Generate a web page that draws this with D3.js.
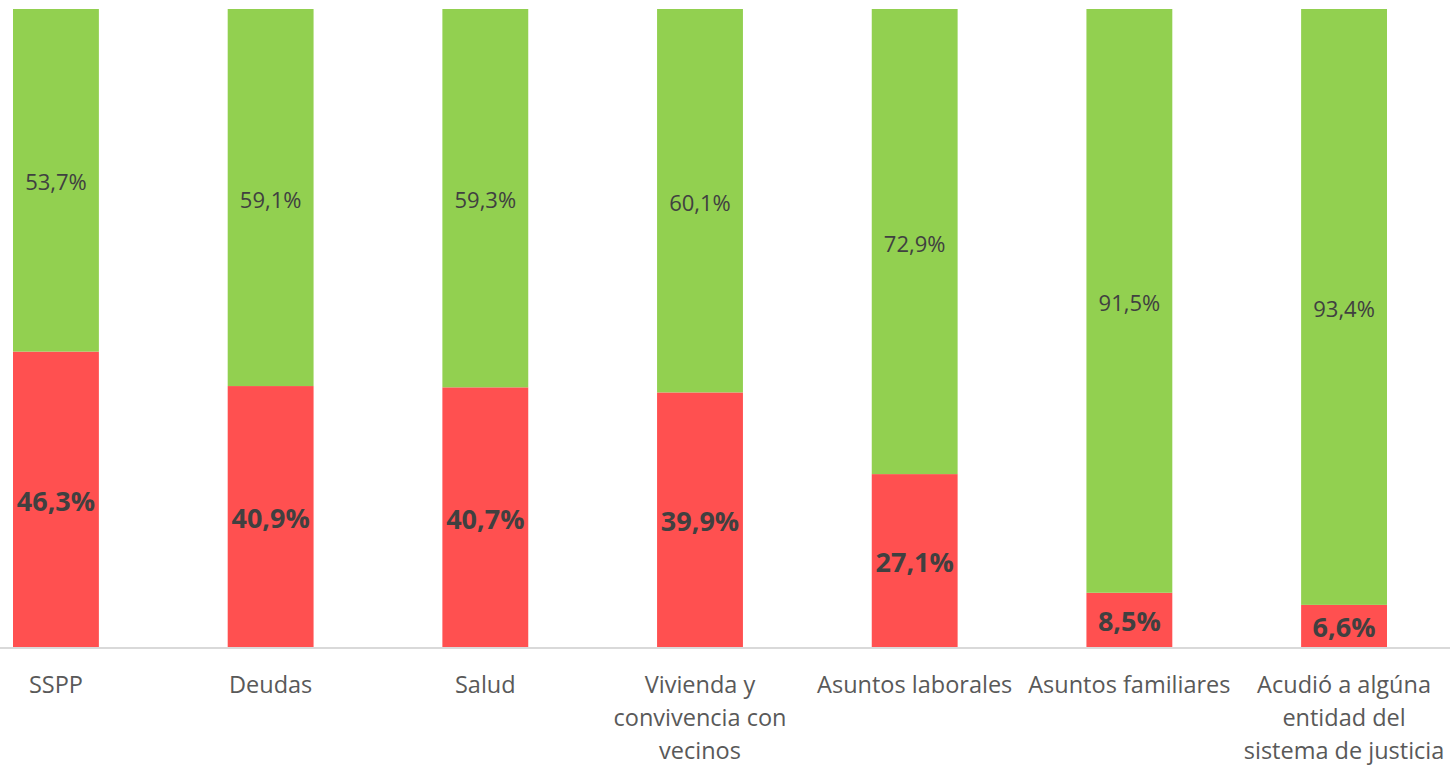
<!DOCTYPE html>
<html><head><meta charset="utf-8">
<script src="https://cdn.jsdelivr.net/npm/d3@7"></script>
<style>body{margin:0;background:#fff;}svg{display:block;}</style>
</head><body>
<svg id="chart" width="1450" height="767"></svg>
<script>
const categories = ["SSPP","Deudas","Salud","Vivienda y\nconvivencia con\nvecinos","Asuntos laborales","Asuntos familiares","Acudió a algúna\nentidad del\nsistema de justicia"];
const redValues = [46.3,40.9,40.7,39.9,27.1,8.5,6.6];
const greenValues = [53.7,59.1,59.3,60.1,72.9,91.5,93.4];

const svg = d3.select("#chart");
const baseY = 647, topY = 9;
const x = d3.scaleBand().domain(categories).range([-51.4, 1451.4]).paddingInner(0.6).paddingOuter(0.3);
const y = d3.scaleLinear().domain([0,100]).range([baseY, topY]);
const fmt = v => v.toFixed(1).replace(".", ",") + "%";

const g = svg.append("g");
categories.forEach((c,i) => {
  const r = redValues[i], gr = greenValues[i];
  g.append("rect").attr("x", x(c)).attr("width", x.bandwidth())
    .attr("y", y(r)).attr("height", y(0)-y(r)).attr("fill","#FF5050");
  g.append("rect").attr("x", x(c)).attr("width", x.bandwidth())
    .attr("y", y(r+gr)).attr("height", y(r)-y(r+gr)).attr("fill","#92D050");
  g.append("text").attr("x", x(c)+x.bandwidth()/2).attr("y", (y(0)+y(r))/2 + 1)
    .attr("text-anchor","middle").attr("dominant-baseline","central")
    .attr("font-family","'Open Sans', sans-serif").attr("font-weight","bold")
    .attr("font-size",27).attr("fill","#404040").text(fmt(r));
  g.append("text").attr("x", x(c)+x.bandwidth()/2).attr("y", (y(r)+y(r+gr))/2 + 1)
    .attr("text-anchor","middle").attr("dominant-baseline","central")
    .attr("font-family","'Open Sans', sans-serif")
    .attr("font-size",22).attr("fill","#404040").text(fmt(gr));
});

const ax = svg.append("g").attr("transform", `translate(0,${baseY+1})`)
  .call(d3.axisBottom(x).tickSize(0).tickFormat(""));
ax.select(".domain").attr("stroke","#d9d9d9").attr("stroke-width",2).attr("d","M0,0H1450");
ax.selectAll(".tick").each(function(c){
  const t = d3.select(this).append("text").attr("fill","#595959")
    .attr("font-family","'Open Sans', sans-serif").attr("font-size",23.5)
    .attr("text-anchor","middle");
  c.split("\n").forEach((line,k) => {
    t.append("tspan").attr("x",0).attr("y", 45 + k*33).text(line);
  });
});
</script>
</body></html>
